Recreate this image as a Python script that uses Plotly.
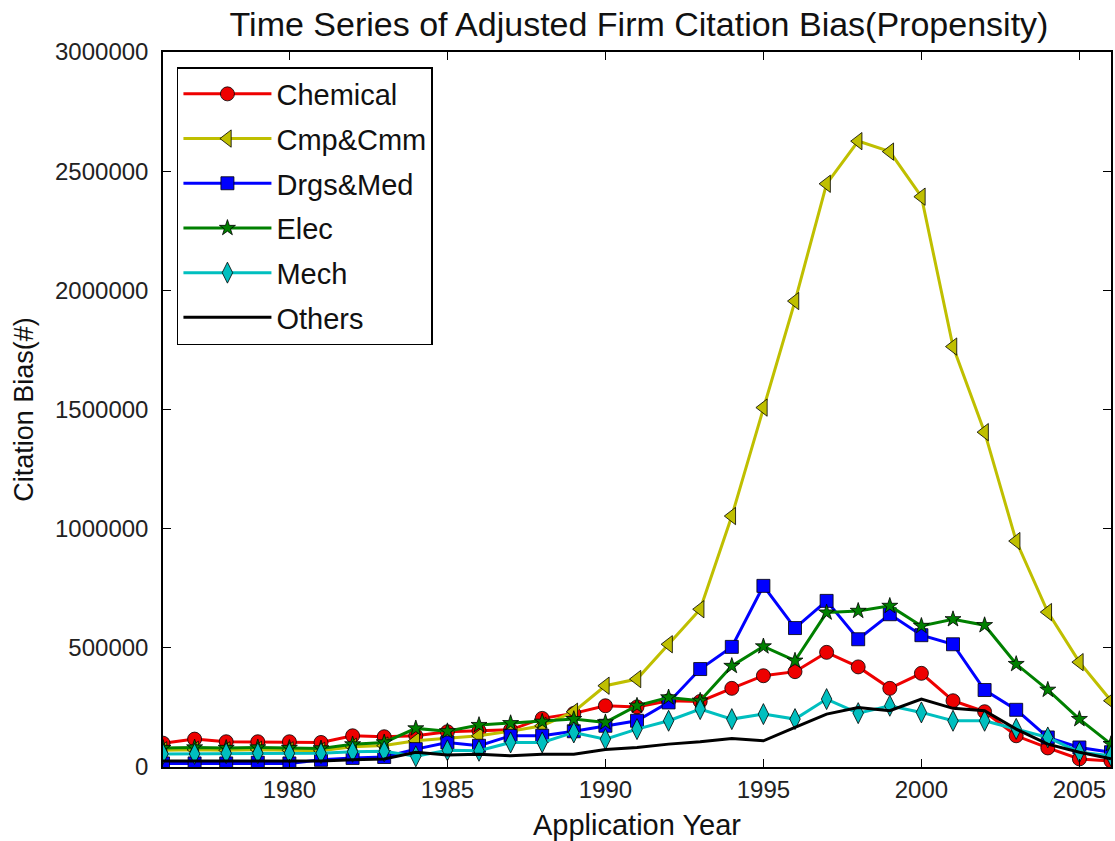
import plotly.graph_objects as go

years = list(range(1976, 2007))

chemical = [100000, 117000, 106000, 106000, 106000, 103000, 131000, 127000, 131000, 148000,
            152000, 156000, 204000, 225000, 257000, 252000, 278000, 275000, 330000, 383000,
            400000, 481000, 420000, 330000, 393000, 278000, 232000, 131000, 80000, 34000, 25000]

cmp_cmm = [70000, 72000, 70000, 72000, 70000, 68000, 85000, 90000, 110000, 120000,
           131000, 150000, 173000, 232000, 341000, 369000, 515000, 662000, 1053000, 1508000,
           1955000, 2447000, 2626000, 2582000, 2393000, 1764000, 1405000, 948000, 650000, 440000, 278000]

drgs_med = [15000, 15000, 15000, 18000, 15000, 30000, 38000, 42000, 75000, 103000,
            89000, 131000, 131000, 150000, 173000, 194000, 271000, 411000, 504000, 760000,
            583000, 697000, 536000, 641000, 553000, 515000, 323000, 240000, 124000, 82000, 62000]

elec = [80000, 82000, 80000, 82000, 80000, 78000, 95000, 103000, 162000, 150000,
        176000, 184000, 190000, 201000, 187000, 257000, 292000, 278000, 424000, 506000,
        446000, 648000, 655000, 676000, 592000, 620000, 595000, 432000, 324000, 201000, 96000]

mech = [55000, 55000, 58000, 58000, 58000, 58000, 64000, 66000, 45000, 70000,
        68000, 103000, 103000, 145000, 117000, 159000, 194000, 243000, 201000, 222000,
        201000, 285000, 226000, 257000, 229000, 194000, 194000, 160000, 124000, 62000, 47000]

others = [25000, 25000, 25000, 25000, 25000, 25000, 30000, 34000, 62000, 50000,
          54000, 47000, 54000, 54000, 73000, 82000, 96000, 106000, 120000, 110000,
          166000, 222000, 250000, 236000, 285000, 246000, 236000, 159000, 96000, 62000, 34000]

series = [
    ("Chemical", chemical, "#ee0000", "circle", 14),
    ("Cmp&Cmm", cmp_cmm, "#bfbf00", "triangle-left", 15),
    ("Drgs&Med", drgs_med, "#0000ff", "square", 13),
    ("Elec", elec, "#008000", "star", 12),
    ("Mech", mech, "#00bfbf", "diamond-tall", 15),
    ("Others", others, "#000000", None, 0),
]

FONT = "Liberation Sans, Arial, sans-serif"

fig = go.Figure()
for i, (name, vals, color, sym, size) in enumerate(series):
    if sym is None:
        fig.add_trace(go.Scatter(x=years, y=vals, name=name, mode="lines",
                                 line=dict(color=color, width=3), legendgroup=f"g{i}"))
    else:
        fig.add_trace(go.Scatter(x=years, y=vals, name=name, mode="lines+markers",
                                 line=dict(color=color, width=3),
                                 marker=dict(symbol=sym, size=size, color=color,
                                             line=dict(color="#000000", width=0.8)),
                                 legendgroup=f"g{i}"))

fig.update_layout(
    width=1115, height=841,
    margin=dict(l=163, r=2, t=52, b=74),
    paper_bgcolor="white", plot_bgcolor="white",
    font=dict(family=FONT, color="#111111"),
    title=dict(text="Time Series of Adjusted Firm Citation Bias(Propensity)",
               x=(163 + 1115) / 2 / 1115, xanchor="center", y=1 - 24 / 841, yanchor="middle",
               font=dict(size=34, family=FONT, color="#111111")),
    showlegend=True,
    legend=dict(x=0.0147, y=0.979, xanchor="left", yanchor="top",
                bgcolor="white", bordercolor="#000000", borderwidth=1.5,
                font=dict(size=29, family=FONT, color="#111111"),
                traceorder="grouped", tracegroupgap=4, itemwidth=88),
)

fig.update_xaxes(range=[1976, 2006], tickmode="linear", tick0=1980, dtick=5,
                 ticks="inside", ticklen=8, tickwidth=1, tickcolor="#000000",
                 showline=True, linecolor="#000000", linewidth=1.5, mirror="ticks",
                 showgrid=False, zeroline=False,
                 tickfont=dict(size=24, family=FONT, color="#222222"),
                 title=dict(text="Application Year", standoff=16,
                            font=dict(size=29, family=FONT, color="#111111")))
fig.update_yaxes(range=[0, 3000000], tickmode="linear", tick0=0, dtick=500000,
                 tickformat="d",
                 ticks="inside", ticklen=8, tickwidth=1, tickcolor="#000000",
                 showline=True, linecolor="#000000", linewidth=1.5, mirror="ticks",
                 showgrid=False, zeroline=False, ticklabelstandoff=8,
                 tickfont=dict(size=24, family=FONT, color="#222222"),
                 title=dict(text="Citation Bias(#)", standoff=14,
                            font=dict(size=27, family=FONT, color="#111111")))

fig.write_html("out.html")
